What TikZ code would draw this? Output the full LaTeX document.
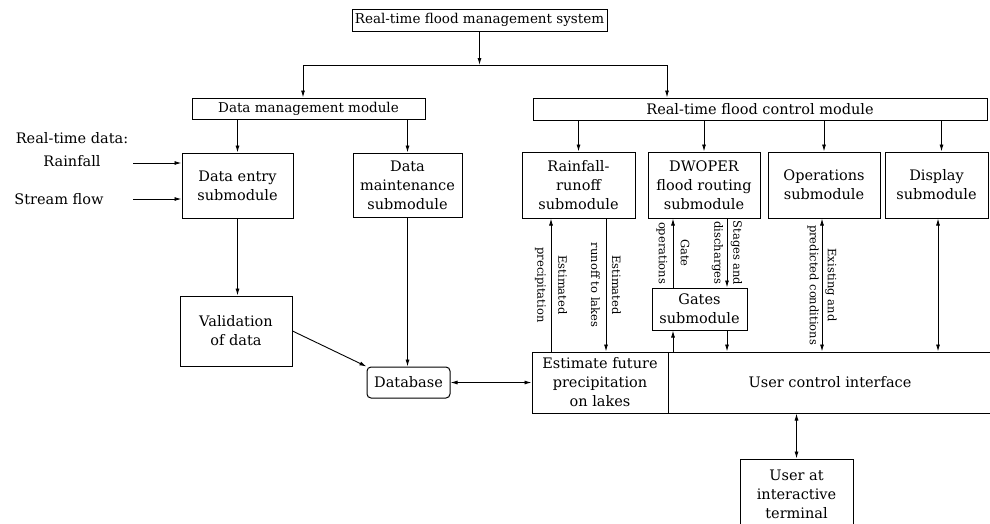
\documentclass[tikz,border=0pt]{standalone}
\usepackage{fontspec}
\setmainfont{DejaVu Serif}
\usetikzlibrary{arrows.meta}
\begin{document}
\begin{tikzpicture}[x=1pt,y=-1pt,
  box/.style={draw, line width=1pt, inner sep=0pt, align=center,
    font=\fontsize{14.5}{19}\selectfont},
  small/.style={font=\fontsize{13.5}{19}\selectfont},
  txt/.style={align=center, inner sep=0pt, font=\fontsize{14.5}{19}\selectfont},
  flow/.style={line width=0.9pt, -{Latex[length=7pt,width=4pt]}},
  both/.style={line width=0.9pt, {Latex[length=7pt,width=4pt]}-{Latex[length=7pt,width=4pt]}},
  plain/.style={line width=0.9pt},
  rotlab/.style={rotate=-90, align=center, inner sep=0pt,
    font=\fontsize{11.5}{13}\selectfont}]
\fill[white] (0,0) rectangle (990,523);
\useasboundingbox (0,0) rectangle (990,523);

% top level and modules
\node[box, small, minimum width=255, minimum height=22] (sys) at (479.5,20) {Real-time flood management system};
\node[box, small, minimum width=233, minimum height=21] (dmm) at (308.5,108.5) {Data management module};
\node[box, minimum width=454, minimum height=22] (rtfc) at (760,109) {Real-time flood control module};

% submodules
\node[box, minimum width=111, minimum height=65] (dentry) at (237.5,185.5) {Data entry\\submodule};
\node[box, minimum width=109, minimum height=64] (dmaint) at (407.5,185) {Data\\maintenance\\submodule};
\node[box, minimum width=113, minimum height=66] (rr) at (578.5,185) {Rainfall-\\runoff\\submodule};
\node[box, minimum width=112, minimum height=66] (dw) at (704,185) {DWOPER\\flood routing\\submodule};
\node[box, minimum width=112, minimum height=66] (ops) at (824,185) {Operations\\submodule};
\node[box, minimum width=103, minimum height=66] (disp) at (936.5,185) {Display\\submodule};

% lower blocks
\node[box, minimum width=112, minimum height=70] (valid) at (236,331) {Validation\\of data};
\node[box, rounded corners=4pt, minimum width=83, minimum height=31] (db) at (408.5,382.5) {Database};
\node[box, minimum width=95, minimum height=42] (gates) at (699.5,309) {Gates\\submodule};
\node[box, minimum width=136, minimum height=61] (est) at (600,382.5) {Estimate future\\precipitation\\on lakes};
\node[box, minimum width=324, minimum height=61] (uci) at (830,382.5) {User control interface};
\node[box, minimum width=113, minimum height=70] (term) at (796.5,494) {User at\\interactive\\terminal};

% external inputs
\node[txt] (rtd) at (72,150) {Real-time data:\\[4pt]Rainfall};
\node[txt] (sf) at (59,199) {Stream flow};
\coordinate (rfin) at (133,163);
\coordinate (sfin) at (133,199);
\draw[flow] (rfin) -- (rfin -| dentry.west);
\draw[flow] (sfin) -- (sfin -| dentry.west);

% branching from the system box
\coordinate (jL) at (303,65);
\coordinate (jR) at (667,65);
\draw[flow] (sys.south) -- (sys.south |- jL);
\draw[plain] (jL) -- (jR);
\draw[flow] (jL) -- (jL |- dmm.north);
\draw[flow] (jR) -- (jR |- rtfc.north);

% modules to submodules
\draw[flow] (dentry.north |- dmm.south) -- (dentry.north);
\draw[flow] (dmaint.north |- dmm.south) -- (dmaint.north);
\draw[flow] (rr.north |- rtfc.south) -- (rr.north);
\draw[flow] (dw.north |- rtfc.south) -- (dw.north);
\draw[flow] (ops.north |- rtfc.south) -- (ops.north);
\draw[flow] ([xshift=5]disp.north |- rtfc.south) -- ([xshift=5]disp.north);

% data path
\draw[flow] (dentry.south) -- (dentry.south |- valid.north);
\draw[flow] (dmaint.south) -- (dmaint.south |- db.north);
\draw[flow] (valid.east) -- (db.north west);
\draw[both] (db.east) -- (est.west);

% exchanges with the user control interface
\coordinate (xa) at (551,0);
\coordinate (xb) at (606,0);
\coordinate (xc) at (673,0);
\coordinate (xd) at (727,0);
\coordinate (xe) at (822,0);
\coordinate (xf) at (938,0);
\draw[flow] (xa |- est.north) -- node[rotlab]{Estimated\\[8pt]precipitation} (xa |- rr.south);
\draw[flow] (xb |- rr.south) -- node[rotlab]{Estimated\\[8pt]runoff to lakes} (xb |- est.north);
\draw[flow] (xc |- gates.north) -- node[rotlab]{Gate\\[9pt]operations} (xc |- dw.south);
\draw[flow] (xd |- dw.south) -- node[rotlab]{Stages and\\[6pt]discharges} (xd |- gates.north);
\draw[flow] (xc |- uci.north) -- (xc |- gates.south);
\draw[flow] (xd |- gates.south) -- (xd |- uci.north);
\draw[both] (xe |- ops.south) -- node[rotlab]{Existing and\\[5pt]predicted conditions} (xe |- uci.north);
\draw[both] (xf |- disp.south) -- (xf |- uci.north);
\draw[both] (uci.south -| term.north) -- (term.north);
\end{tikzpicture}
\end{document}
